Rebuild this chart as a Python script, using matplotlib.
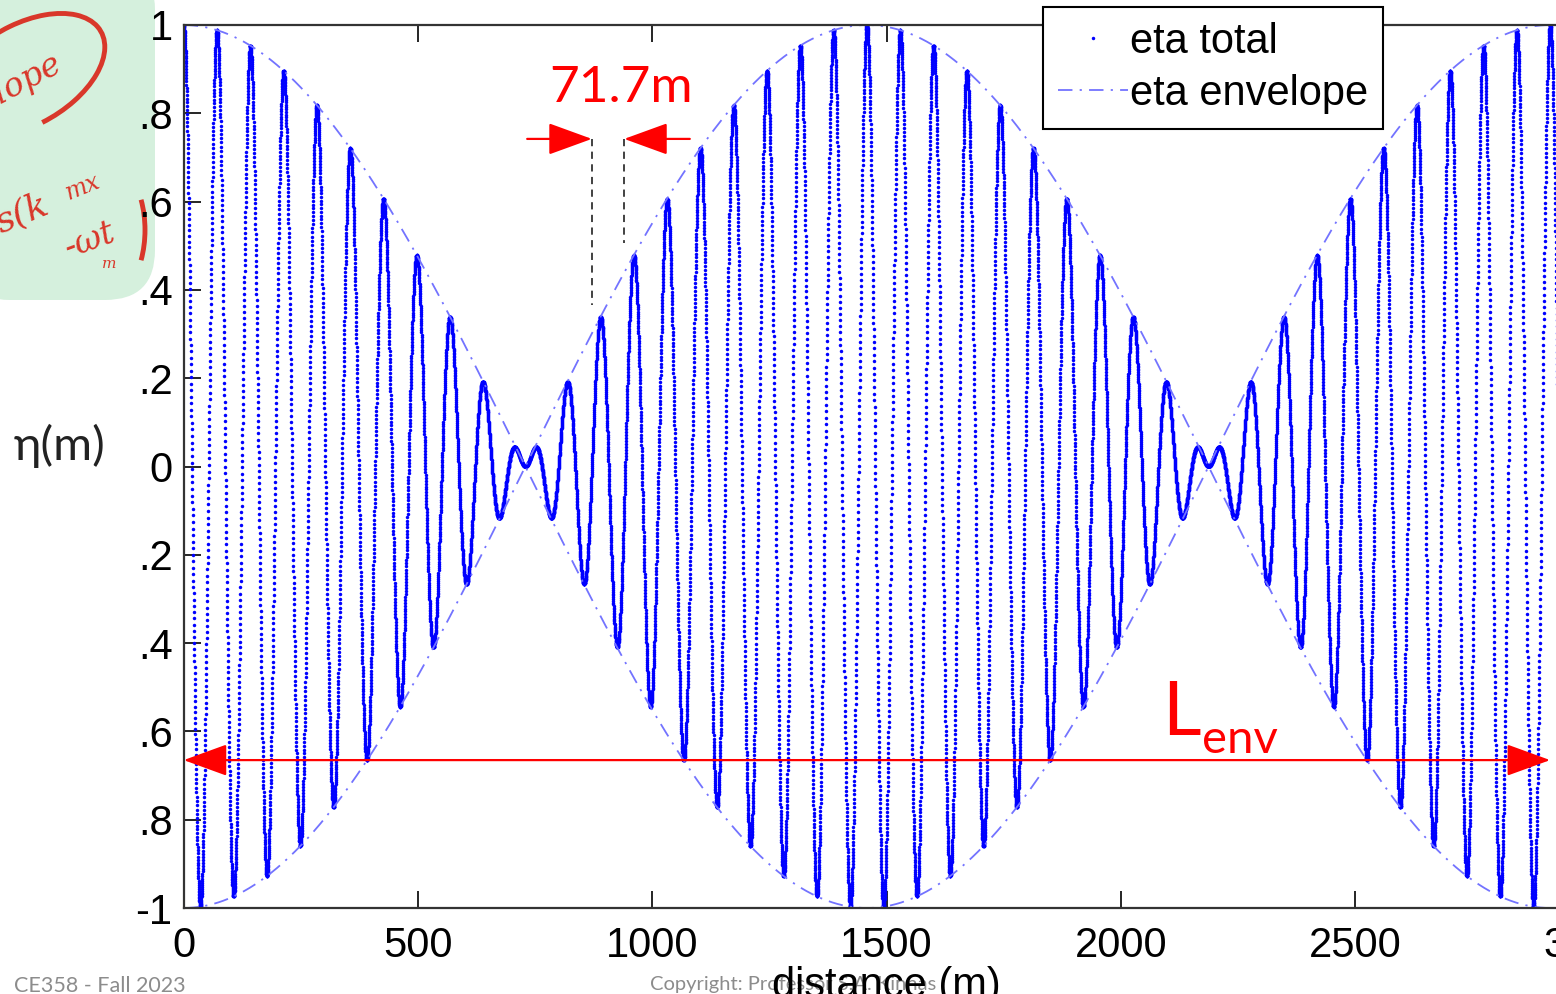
import numpy as np
import matplotlib
matplotlib.use('Agg')
import matplotlib.pyplot as plt
from matplotlib.patches import FancyBboxPatch, Arc

# wave parameters
L_env = 2916.0           # envelope length (m)
n_waves = 41             # carrier waves per envelope length
dx = 0.17                # sampling step of the dotted curve (m)
x_max = 3000.0

xticks = [0, 500, 1000, 1500, 2000, 2500, 3000]
yticks = [-1, -0.8, -0.6, -0.4, -0.2, 0, 0.2, 0.4, 0.6, 0.8, 1]
ytick_labels = ['-1', '.8', '.6', '.4', '.2', '0', '.2', '.4', '.6', '.8', '1']

wave_label = '71.7m'
wave_marks = [871, 940]          # dashed guide positions (m)
wave_mark_tops = [0.366, 0.506]  # lower end of dashed guides
wave_arrow_y = 0.742
L_arrow_y = -0.665

x = np.arange(0, x_max + dx, dx)
km = 2 * np.pi / L_env
k = 2 * np.pi * n_waves / L_env
env = np.cos(km * x)
eta = env * np.cos(k * x)

W, H = 1556, 994
fig = plt.figure(figsize=(W / 100, H / 100), dpi=100)

# overlay in pixel units for the slide decorations
ov = fig.add_axes([0, 0, 1, 1], zorder=-1)
ov.set_xlim(0, W)
ov.set_ylim(H, 0)
ov.axis('off')
ov.add_patch(FancyBboxPatch((-40, -40), 195, 340, boxstyle='round,pad=0,rounding_size=50',
                            fc='#d5f0dd', ec='none'))
hand = '#d9372a'
ov.add_patch(Arc((25, 75), 175, 100, angle=-30, theta1=-120, theta2=100, color=hand, lw=3.5))
ov.text(-28, 112, 'elope', fontsize=24, color=hand, rotation=28, style='italic',
        family='DejaVu Serif', va='baseline')
ov.text(-10, 232, 's(k', fontsize=26, color=hand, rotation=22, style='italic',
        family='DejaVu Serif', va='baseline')
ov.text(62, 200, 'mx', fontsize=17, color=hand, rotation=22, style='italic',
        family='DejaVu Serif', va='baseline')
ov.text(60, 258, '-ωt', fontsize=24, color=hand, rotation=20, style='italic',
        family='DejaVu Serif', va='baseline')
ov.text(102, 268, 'm', fontsize=11, color=hand, style='italic', family='DejaVu Serif')
ov.add_patch(Arc((105, 230), 80, 140, angle=0, theta1=-40, theta2=40, color=hand, lw=3.5))

ov.text(14, 976, 'CE358 - Fall 2023', fontsize=15.5, color='#8c8c8c', family='Lato', va='top')
ov.text(650, 976, 'Copyright: Professor S.A. Kinnas', fontsize=14.5, color='#8c8c8c',
        family='Lato', va='top')
ov.text(60, 446, 'η(m)', fontsize=34, color='#222222', family=['Lato', 'DejaVu Sans'],
        ha='center', va='center')

# main axes (right edge runs past the slide border, as in the picture)
x0, x1 = 183.7, 1589.5
y0, y1 = 25, 908
ax = fig.add_axes([x0 / W, 1 - y1 / H, (x1 - x0) / W, (y1 - y0) / H])
ax.set_facecolor('none')

ax.plot(x, eta, '.', color='#0000ff', ms=5, mew=0, label='eta total')
ax.plot(x, env, color='#7373ff', lw=1.3, dashes=(8, 4, 1.2, 4), label='eta envelope')
ax.plot(x, -env, color='#7373ff', lw=1.3, dashes=(8, 4, 1.2, 4))

ax.set_xlim(0, x_max)
ax.set_ylim(-1, 1)
ax.set_xticks(xticks)
ax.set_xticklabels([str(t) for t in xticks])
ax.set_yticks(yticks)
ax.set_yticklabels(ytick_labels)
ax.tick_params(direction='in', length=12, width=1.2, top=True, right=True,
               labelsize=30, pad=8)
ax.tick_params(axis='x', pad=13)
for lab in ax.get_xticklabels() + ax.get_yticklabels():
    lab.set_family('Liberation Sans')
for s in ax.spines.values():
    s.set_linewidth(1.6)
    s.set_color('#333333')
ax.set_xlabel('distance (m)', fontsize=30, family='Liberation Sans', labelpad=0)

leg = ax.legend(loc='upper left', bbox_to_anchor=(1043 / W, 1 - 7 / H),
                bbox_transform=fig.transFigure, fontsize=30, frameon=True,
                fancybox=False, edgecolor='black', framealpha=1,
                handlelength=1.7, handletextpad=0.05, borderpad=0.35,
                labelspacing=0.3, markerscale=1.0, borderaxespad=0)
leg.get_frame().set_linewidth(1.5)
for t in leg.get_texts():
    t.set_family('Liberation Sans')

# wavelength annotation
head = '-|>,head_length=1.1,head_width=0.4'
ax.annotate('', xy=(wave_marks[0], wave_arrow_y), xytext=(733, wave_arrow_y),
            arrowprops=dict(arrowstyle=head, mutation_scale=25, color='red', lw=1.6,
                            shrinkA=0, shrinkB=0))
ax.annotate('', xy=(wave_marks[1], wave_arrow_y), xytext=(1080, wave_arrow_y),
            arrowprops=dict(arrowstyle=head, mutation_scale=25, color='red', lw=1.6,
                            shrinkA=0, shrinkB=0))
for xm, yb in zip(wave_marks, wave_mark_tops):
    ax.plot([xm, xm], [wave_arrow_y, yb], color='#333333', lw=1.3, dashes=(4, 3))
ax.text(933, 0.826, wave_label, color='red', fontsize=37, family='Lato',
        ha='center', va='baseline')

# envelope length annotation
ax.annotate('', xy=(0, L_arrow_y), xytext=(L_env, L_arrow_y),
            arrowprops=dict(arrowstyle='<|-|>,head_length=1.1,head_width=0.4',
                            mutation_scale=25, color='red', lw=1.6, shrinkA=0, shrinkB=0))
ax.text(2088, -0.608, 'L', color='red', fontsize=54, family='Lato', va='baseline')
ax.text(2174, -0.648, 'env', color='red', fontsize=34, family='Lato', va='baseline')

fig.savefig('out.png', dpi=100)
